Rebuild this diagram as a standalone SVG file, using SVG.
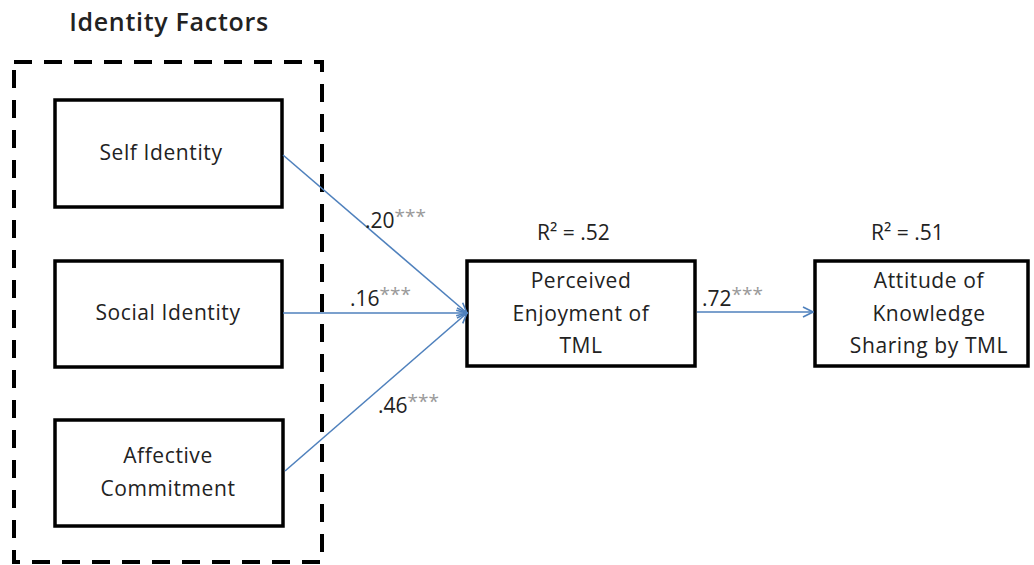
<svg xmlns="http://www.w3.org/2000/svg" width="1034" height="565" viewBox="0 0 1034 565">
<defs>
<style>
.box{fill:#fff;stroke:#000;stroke-width:3.5}
.t{font-family:"Open Sans","Liberation Sans",sans-serif;font-size:21px;letter-spacing:0.6px;fill:#222;text-anchor:middle}
.lbl{font-family:"Open Sans","Liberation Sans",sans-serif;font-size:21px;fill:#222}
.st{fill:#999;font-size:19px}
.edge{stroke:#4F81BD;stroke-width:1.6;fill:none;marker-end:url(#ah)}
</style>
<marker id="ah" viewBox="0 0 12 12" refX="11" refY="6" markerWidth="12" markerHeight="12" markerUnits="userSpaceOnUse" orient="auto">
<path d="M1,1 L11,6 L1,11" fill="none" stroke="#4F81BD" stroke-width="1.6"/>
</marker>
</defs>
<rect width="1034" height="565" fill="#fff"/>
<g id="group-identity">
<rect x="14" y="62" width="308" height="500" fill="none" stroke="#000" stroke-width="4" stroke-dasharray="18,12"/>
<text x="169" y="31" class="t" style="font-size:25px;font-weight:600;letter-spacing:0.7px" fill="#111">Identity Factors</text>
</g>
<g id="self-identity">
<rect class="box" x="55" y="100" width="227" height="107"/>
<text class="t" x="161" y="160">Self Identity</text>
</g>
<g id="social-identity">
<rect class="box" x="55" y="261" width="227" height="106"/>
<text class="t" x="168" y="320">Social Identity</text>
</g>
<g id="affective-commitment">
<rect class="box" x="55" y="420" width="228" height="106"/>
<text class="t" x="168" y="463">Affective</text>
<text class="t" x="168" y="496">Commitment</text>
</g>
<g id="perceived-enjoyment">
<rect class="box" x="467" y="261" width="228" height="105"/>
<text class="t" x="581" y="288">Perceived</text>
<text class="t" x="581" y="321">Enjoyment of</text>
<text class="t" x="581" y="353">TML</text>
<text class="lbl" x="537" y="240">R² = .52</text>
</g>
<g id="attitude">
<rect class="box" x="815" y="261" width="213" height="105"/>
<text class="t" x="929" y="288">Attitude of</text>
<text class="t" x="929" y="321">Knowledge</text>
<text class="t" x="929" y="353">Sharing by TML</text>
<text class="lbl" x="871" y="240">R² = .51</text>
</g>
<g id="connectors">
<line class="edge" x1="283" y1="155" x2="467" y2="313"/>
<line class="edge" x1="283" y1="313" x2="467" y2="313"/>
<line class="edge" x1="285" y1="471" x2="467" y2="313"/>
<line class="edge" x1="697" y1="312" x2="813" y2="312"/>
<text class="lbl" x="365" y="228">.20<tspan class="st" dy="-5">***</tspan></text>
<text class="lbl" x="350" y="306">.16<tspan class="st" dy="-5">***</tspan></text>
<text class="lbl" x="378" y="413">.46<tspan class="st" dy="-5">***</tspan></text>
<text class="lbl" x="702" y="306">.72<tspan class="st" dy="-5">***</tspan></text>
</g>
</svg>
